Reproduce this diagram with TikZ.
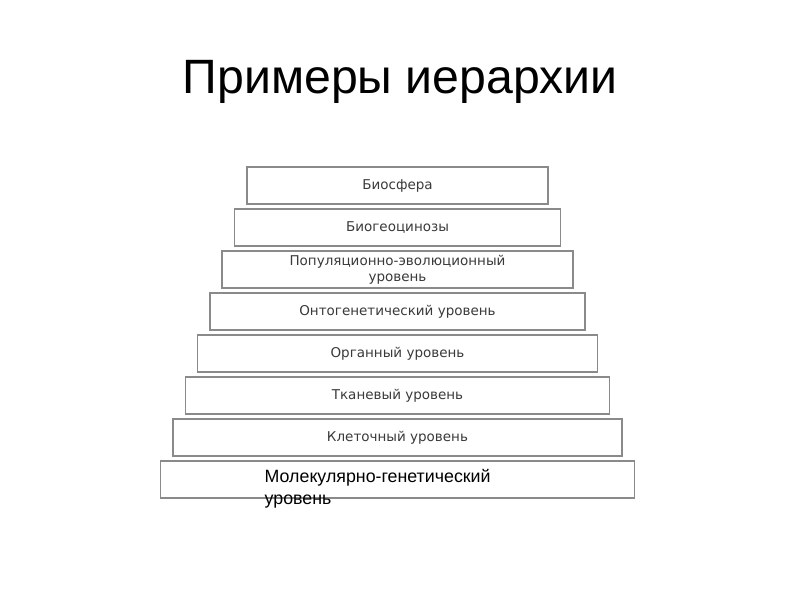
\documentclass[tikz,border=0pt]{standalone}
\usepackage{fontspec}
\setmainfont{Liberation Sans}
\newfontfamily\boxfont{DejaVu Sans}
\usepackage{tikz}
\usetikzlibrary{positioning}
\definecolor{stepgray}{HTML}{8A8A8A}
\definecolor{textgray}{HTML}{3A3A3A}

\begin{document}
\begin{tikzpicture}[
    x=1pt, y=-1pt,
    level/.style={
      rectangle,
      draw=stepgray,
      line width=1.3pt,
      align=center,
      minimum height=37pt,
      inner sep=0pt,
      outer sep=0pt,
      text=textgray,
      font=\boxfont\fontsize{13.5}{16}\selectfont
    },
    heading/.style={font=\fontsize{48.2}{56}\selectfont, text=black}
  ]
    \useasboundingbox[fill=white] (0,0) rectangle (800,600);

    \node[heading, anchor=base] (title) at (400,93) {Примеры иерархии};

    \node[level, minimum width=301pt] (bio) at (397.5,185.5) {Биосфера};
    \node[level, minimum width=326pt, below=5pt of bio] (ceno) {Биогеоцинозы};
    \node[level, minimum width=351pt, below=5pt of ceno] (pop) {Популяционно-эволюционный\\уровень};
    \node[level, minimum width=375pt, below=5pt of pop] (onto) {Онтогенетический уровень};
    \node[level, minimum width=400pt, below=5pt of onto] (organ) {Органный уровень};
    \node[level, minimum width=424pt, below=5pt of organ] (tissue) {Тканевый уровень};
    \node[level, minimum width=449pt, below=5pt of tissue] (cell) {Клеточный уровень};
    \node[level, minimum width=474pt, below=5pt of cell] (mol) {};

    \node[anchor=north west, align=left, inner sep=0pt, font=\fontsize{17.8}{22}\selectfont]
      (molText) at ([xshift=104pt, yshift=-8pt]mol.north west) {Молекулярно-генетический\\уровень};
  \end{tikzpicture}
\end{document}
